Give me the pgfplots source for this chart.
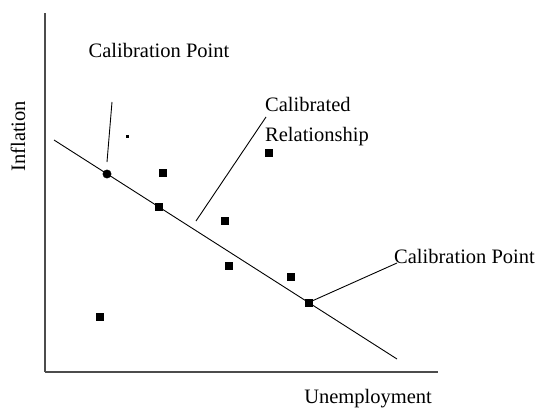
\documentclass[border=0pt]{standalone}
\usepackage{fontspec}
\setmainfont{Liberation Serif}
\usepackage{pgfplots}
\pgfplotsset{compat=1.18}
\begin{document}
\begin{tikzpicture}[font=\fontsize{20.5bp}{24bp}\selectfont]
\begin{axis}[
  scale only axis, width=393bp, height=359bp,
  xmin=45, xmax=438, ymin=38, ymax=397,
  axis x line*=bottom, axis y line*=left,
  axis line style={-, line width=1.4bp, draw=black!70},
  xtick=\empty, ytick=\empty,
  clip=false,
  xlabel={Unemployment}, ylabel={Inflation},
  xlabel style={at={(axis description cs:0.822,-0.075)}, anchor=center},
  ylabel style={at={(axis description cs:-0.0687,0.657)}, anchor=center, rotate=0},
]
\path[use as bounding box] (axis cs:0,0) rectangle (axis cs:543,410);
% calibrated relationship line
\addplot[black, line width=0.9bp] coordinates {(54,270) (397,51)};
% pointer lines
\addplot[black, line width=0.9bp] coordinates {(112,308) (107,248)};
\addplot[black, line width=0.9bp] coordinates {(266,293) (196,189)};
\addplot[black, line width=0.9bp] coordinates {(397,147) (312,109)};
% data points
\addplot[only marks, mark=square*, mark size=3.6bp, black] coordinates {
 (163,237) (269,257) (159,203) (225,189) (229,144) (100,93) (291,133) (309,107)};
\addplot[only marks, mark=*, mark size=4.2bp, black] coordinates {(107,236)};
\addplot[only marks, mark=square*, mark size=1.2bp, black] coordinates {(127,274)};
% annotations
\node[anchor=center] at (axis cs:159,360) {Calibration Point};
\node[anchor=west, inner sep=0pt] at (axis cs:265,306) {Calibrated};
\node[anchor=west, inner sep=0pt] at (axis cs:265,273) {Relationship};
\node[anchor=west, inner sep=0pt] at (axis cs:394,154) {Calibration Point};
\end{axis}
\end{tikzpicture}
\end{document}
